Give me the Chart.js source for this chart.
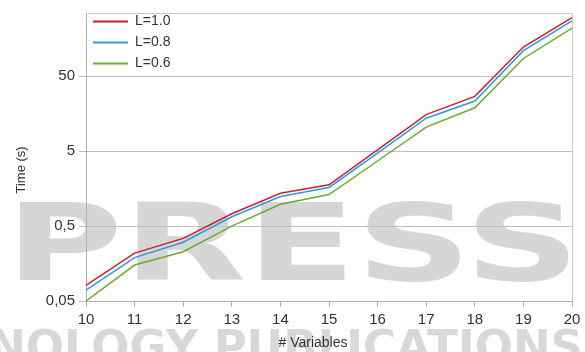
<!DOCTYPE html>
<html>
<head>
<meta charset="utf-8">
<script src="https://cdn.jsdelivr.net/npm/chart.js@4"></script>
<style>
  html,body{margin:0;padding:0;background:#fff;}
  #wrap{width:585px;height:352px;position:relative;}
</style>
</head>
<body>
<div id="wrap"><canvas id="c"></canvas></div>
<script>
// values (log scale)
const variables = [10, 11, 12, 13, 14, 15, 16, 17, 18, 19, 20];
const timeL10 = [0.081, 0.218, 0.343, 0.73, 1.37, 1.78, 5.2, 15.4, 27, 123, 303];
const timeL08 = [0.070, 0.19, 0.304, 0.666, 1.24, 1.64, 4.71, 13.8, 23.4, 110, 274];
const timeL06 = [0.05, 0.151, 0.227, 0.50, 0.98, 1.32, 3.70, 10.5, 19.0, 86.5, 220];
const yTicks = [0.05, 0.5, 5, 50];
const yTickLabels = ['0,05', '0,5', '5', '50'];
const xTitle = '# Variables';
const yTitle = 'Time (s)';

const FONT = '"Liberation Sans", Arial, sans-serif';

// faint publisher watermark behind the plot
const watermark = {
  id:'watermark',
  beforeDraw(chart){
    const ctx = chart.ctx;
    ctx.save();
    ctx.fillStyle = '#d6d6d6';
    ctx.textAlign = 'right';
    ctx.textBaseline = 'alphabetic';
    ctx.font = 'bold 107px "DejaVu Sans"';
    ctx.translate(580, 280);
    ctx.scale(1.5, 1);
    ctx.fillText('SCITEPRESS', 0, 0);
    ctx.restore();
    ctx.save();
    ctx.fillStyle = '#d8d8d8';
    ctx.textAlign = 'right';
    ctx.textBaseline = 'alphabetic';
    ctx.font = 'bold 45px "DejaVu Sans"';
    ctx.fillText('TECHNOLOGY PUBLICATIONS', 583, 362);
    ctx.restore();
  }
};

// light frame on top/right of the plot, axis titles placed as in the figure
const frame = {
  id:'frame',
  afterDatasetsDraw(chart){
    const a = chart.chartArea, ctx = chart.ctx;
    ctx.save();
    ctx.strokeStyle = '#c8c8c8';
    ctx.lineWidth = 1;
    ctx.beginPath();
    ctx.moveTo(a.left, a.top + 0.5);
    ctx.lineTo(a.right + 0.5, a.top + 0.5);
    ctx.lineTo(a.right + 0.5, a.bottom);
    ctx.stroke();
    ctx.fillStyle = '#333';
    ctx.textAlign = 'center';
    ctx.textBaseline = 'middle';
    ctx.font = '14px ' + FONT;
    ctx.fillText(xTitle, a.left + (a.right - a.left) * 0.467, a.bottom + 42);
    ctx.translate(21, a.top + (a.bottom - a.top) * 0.545);
    ctx.rotate(-Math.PI / 2);
    ctx.font = '13px ' + FONT;
    ctx.fillText(yTitle, 0, 0);
    ctx.restore();
  }
};

function ds(label, data, color){
  return { label, data, borderColor:color, backgroundColor:color, borderWidth:1.5,
           pointRadius:0, tension:0, fill:false };
}

new Chart(document.getElementById('c'), {
  type:'line',
  data:{
    labels: variables,
    datasets:[
      ds('L=1.0', timeL10, '#c8202c'),
      ds('L=0.8', timeL08, '#2a9de0'),
      ds('L=0.6', timeL06, '#6caa34')
    ]
  },
  plugins:[watermark, frame],
  options:{
    responsive:true, maintainAspectRatio:false, animation:false,
    layout:{ padding:{ left:0, right:13, top:7, bottom:0 } },
    plugins:{
      legend:{
        position:'chartArea', align:'start',
        title:{ display:true, text:' ', font:{ size:6, lineHeight:1 }, padding:{ top:0, bottom:1.5 } },
        labels:{
          boxWidth:35, boxHeight:2, padding:7, color:'#333',
          font:{ family:FONT, size:14 },
          generateLabels(chart){
            return chart.data.datasets.map((d,i)=>({
              text:d.label, fillStyle:d.borderColor, strokeStyle:d.borderColor,
              lineWidth:0, datasetIndex:i, hidden:false, fontColor:'#333'
            }));
          }
        }
      },
      tooltip:{ enabled:false }
    },
    scales:{
      x:{
        type:'category', offset:false,
        grid:{ drawOnChartArea:false, drawTicks:true, tickLength:6, color:'#b0b0b0' },
        border:{ color:'#b0b0b0' },
        ticks:{ color:'#333', font:{ family:FONT, size:15 }, padding:4, maxRotation:0 },
        afterFit(s){ s.height = 51; }
      },
      y:{
        type:'logarithmic', min:0.05, max:350,
        afterBuildTicks(s){ s.ticks = yTicks.map(v=>({ value:v })); },
        grid:{ color:'#c0c0c0', tickLength:7, drawTicks:true },
        border:{ color:'#b0b0b0' },
        ticks:{
          color:'#333', font:{ family:FONT, size:15 }, padding:4,
          callback(v){ const i = yTicks.indexOf(v); return i >= 0 ? yTickLabels[i] : ''; }
        },
        afterFit(s){ s.width = 86; }
      }
    }
  }
});
</script>
</body>
</html>
